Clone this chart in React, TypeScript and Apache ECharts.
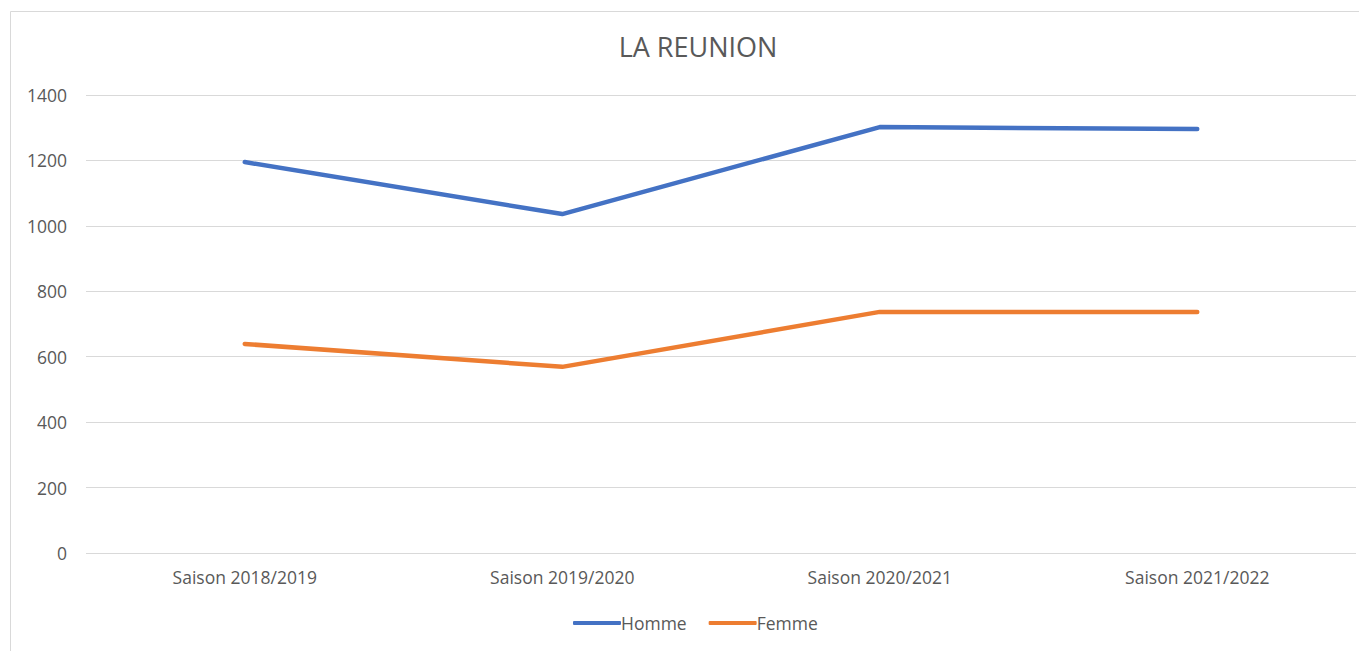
import React, { useEffect, useRef } from "react";
import * as echarts from "echarts";

const categories = ["Saison 2018/2019", "Saison 2019/2020", "Saison 2020/2021", "Saison 2021/2022"];
const homme = [1195, 1036, 1302, 1296];
const femme = [639, 569, 737, 737];

const FONT = "'Open Sans', 'Noto Sans', sans-serif";
const TXT = "#595959";

export default function App() {
  const ref = useRef<HTMLDivElement>(null);
  useEffect(() => {
    if (!ref.current) return;
    const chart = echarts.init(ref.current, null, { renderer: "svg" });
    chart.setOption({
      animation: false,
      backgroundColor: "#ffffff",
      textStyle: { fontFamily: FONT },
      graphic: [
        {
          type: "rect",
          shape: { x: 10.5, y: 11.5, width: 1360, height: 660 },
          style: { fill: "none", stroke: "#d9d9d9", lineWidth: 1 },
          silent: true,
        },
      ],
      title: {
        text: "LA REUNION",
        left: 693,
        textAlign: "center",
        top: 28,
        textStyle: { fontFamily: FONT, fontSize: 27, fontWeight: "normal", color: TXT },
      },
      legend: {
        top: 609,
        left: 568,
        itemWidth: 48,
        itemHeight: 4,
        itemGap: 22,
        icon: "roundRect",
        textStyle: { fontFamily: FONT, fontSize: 17.5, color: TXT, padding: [0, 0, 0, -5] },
        data: ["Homme", "Femme"],
      },
      grid: { left: 86, right: 3, top: 95, bottom: 98, containLabel: false },
      xAxis: {
        type: "category",
        data: categories,
        axisLine: { show: false },
        axisTick: { show: false },
        axisLabel: { fontFamily: FONT, fontSize: 17.5, color: TXT, margin: 15 },
      },
      yAxis: {
        type: "value",
        min: 0,
        max: 1400,
        interval: 200,
        axisLine: { show: false },
        axisTick: { show: false },
        axisLabel: {
          fontFamily: FONT,
          fontSize: 17.5,
          color: TXT,
          margin: 19,
          formatter: (v: number) => String(v),
        },
        splitLine: { lineStyle: { color: "#d9d9d9", width: 1 } },
      },
      series: [
        {
          name: "Homme",
          type: "line",
          data: homme,
          showSymbol: false,
          symbol: "none",
          lineStyle: { color: "#4472c4", width: 4.5, cap: "round" },
          itemStyle: { color: "#4472c4" },
        },
        {
          name: "Femme",
          type: "line",
          data: femme,
          showSymbol: false,
          symbol: "none",
          lineStyle: { color: "#ed7d31", width: 4.5, cap: "round" },
          itemStyle: { color: "#ed7d31" },
        },
      ],
    });
    return () => chart.dispose();
  }, []);
  return (
    <div
      ref={ref}
      style={{ position: "fixed", left: 0, top: 0, width: 1359, height: 651, background: "#fff" }}
    />
  );
}
